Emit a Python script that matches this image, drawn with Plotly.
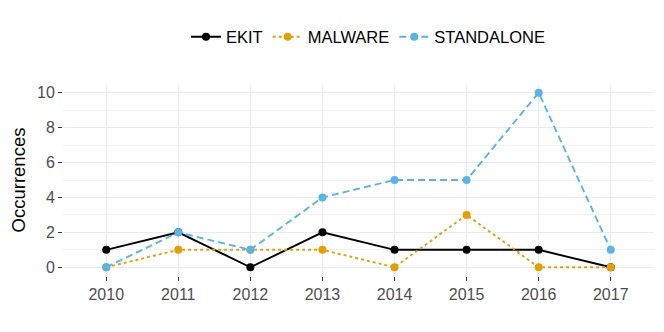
import plotly.graph_objects as go

years = [2010, 2011, 2012, 2013, 2014, 2015, 2016, 2017]
ekit = [1, 2, 0, 2, 1, 1, 1, 0]
malware = [0, 1, 1, 1, 0, 3, 0, 0]
standalone = [0, 2, 1, 4, 5, 5, 10, 1]

series = [
    ("EKIT", ekit, "#000000", "solid"),
    ("MALWARE", malware, "#E69F00", "3px,3px"),
    ("STANDALONE", standalone, "#56B4E9", "7px,4px"),
]

fig = go.Figure()
for name, vals, color, dash in series:
    fig.add_trace(go.Scatter(
        x=years, y=vals, name=name, mode="lines+markers",
        line=dict(color=color, width=1.9, dash=dash),
        marker=dict(color=color, size=8),
    ))

# page body adds an 8px offset, so margins are shifted to compensate
fig.update_layout(
    width=664, height=332,
    margin=dict(l=55, r=18, t=76, b=64),
    paper_bgcolor="white", plot_bgcolor="white",
    font=dict(family="Liberation Sans, Arial, sans-serif", size=16, color="#4D4D4D"),
    legend=dict(orientation="h", x=360 / 664, xref="container", xanchor="center",
                y=1 - 29 / 332, yref="container", yanchor="middle",
                font=dict(size=16.5, color="black"), itemwidth=30, tracegroupgap=0),
)
fig.update_xaxes(
    range=[2009.4, 2017.6], tickvals=years, ticktext=[str(y) for y in years],
    showgrid=True, gridcolor="#EBEBEB", gridwidth=1.3, zeroline=False,
    ticks="outside", ticklen=4, tickcolor="#333333", tickwidth=1,
    tickfont=dict(size=16, color="#4D4D4D"), automargin=False,
)
fig.update_yaxes(
    range=[-0.5, 10.5], tickvals=[0, 2, 4, 6, 8, 10],
    showgrid=True, gridcolor="#EBEBEB", gridwidth=1.3, zeroline=False,
    minor=dict(tickvals=[1, 3, 5, 7, 9], showgrid=True, gridcolor="#F2F2F2", gridwidth=1),
    ticks="outside", ticklen=4, tickcolor="#333333", tickwidth=1,
    tickfont=dict(size=16, color="#4D4D4D"), automargin=False,
    title=dict(text="Occurrences", font=dict(size=18.5, color="black"), standoff=8),
)

fig.write_html("out.html")
